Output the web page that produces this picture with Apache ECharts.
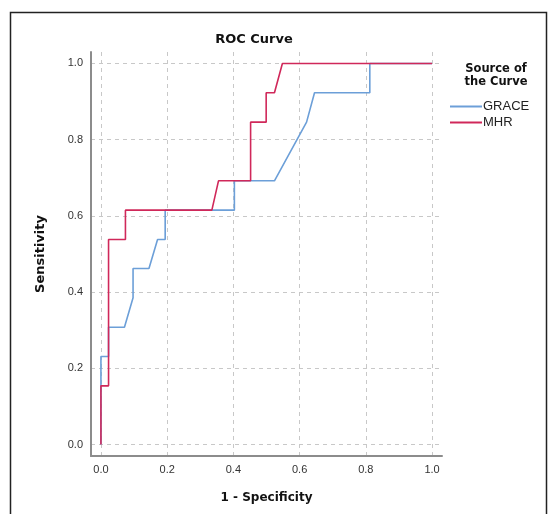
<!DOCTYPE html>
<html>
<head>
<meta charset="utf-8">
<script src="https://cdn.jsdelivr.net/npm/echarts@6/dist/echarts.min.js"></script>
<style>
  html, body { margin: 0; padding: 0; background: #fff; }
  #roc { width: 549px; height: 514px; }
</style>
</head>
<body>
<div id="roc"></div>
<script>
// tick values on both axes
var tickValues = [0, 0.2, 0.4, 0.6, 0.8, 1.0];

// ROC points: [1 - specificity, sensitivity]
var graceCurve = [
    [0, 0], [0, 0.231], [0.023, 0.231], [0.023, 0.308], [0.071, 0.308],
    [0.097, 0.385], [0.097, 0.462], [0.145, 0.462], [0.171, 0.538],
    [0.194, 0.538], [0.194, 0.615], [0.403, 0.615], [0.403, 0.692],
    [0.524, 0.692], [0.621, 0.846], [0.645, 0.923], [0.812, 0.923],
    [0.812, 1], [1, 1]
];
var mhrCurve = [
    [0, 0], [0, 0.154], [0.023, 0.154], [0.023, 0.538], [0.074, 0.538],
    [0.074, 0.615], [0.335, 0.615], [0.355, 0.692], [0.452, 0.692],
    [0.452, 0.846], [0.499, 0.846], [0.499, 0.923], [0.524, 0.923],
    [0.548, 1], [1, 1]
];

var seriesNames = ['GRACE', 'MHR'];
var seriesColors = ['#6c9fd8', '#d0285a'];

var chartDom = document.getElementById('roc');
var myChart = echarts.init(chartDom);

var fontFam = '"Liberation Sans", Arial, sans-serif';
var boldFam = '"DejaVu Sans", Verdana, sans-serif';

function valueAxis(name, nameGap, rotate, nameSize) {
    return {
        type: 'value',
        min: -0.03,
        max: 1.03,
        name: name,
        nameLocation: 'middle',
        nameGap: nameGap,
        nameRotate: rotate,
        nameTextStyle: { fontFamily: boldFam, fontWeight: 'bold', fontSize: nameSize, color: '#111' },
        axisLine: { show: true, onZero: false, lineStyle: { color: '#8c8c8c', width: 2 } },
        axisTick: { show: false, customValues: tickValues },
        axisLabel: {
            customValues: tickValues,
            formatter: function (v) { return v.toFixed(1); },
            fontFamily: fontFam,
            fontSize: 11,
            color: '#333'
        },
        splitLine: { show: true, lineStyle: { color: '#c8c8c8', type: [4, 4], width: 1 } }
    };
}

var option = {
    backgroundColor: '#fff',
    animation: false,
    graphic: [
        {
            type: 'rect',
            shape: { x: 10.5, y: 12.5, width: 536, height: 520 },
            style: { fill: null, stroke: '#222', lineWidth: 1.5 },
            silent: true
        },
        {
            type: 'text',
            x: 254,
            y: 33,
            style: {
                text: 'ROC Curve',
                align: 'center',
                font: 'bold 13px ' + boldFam,
                fill: '#111'
            }
        },
        {
            type: 'text',
            x: 496,
            y: 63,
            style: {
                text: 'Source of\nthe Curve',
                align: 'center',
                font: 'bold 11.5px ' + boldFam,
                fill: '#111',
                lineHeight: 13
            }
        }
    ],
    legend: {
        orient: 'vertical',
        left: 445,
        top: 95,
        itemWidth: 32,
        itemHeight: 2,
        itemGap: 3,
        icon: 'rect',
        data: seriesNames,
        textStyle: { fontFamily: fontFam, fontSize: 13, color: '#222', padding: [0, 0, 0, -4] }
    },
    grid: { left: 91, top: 52, right: 107, bottom: 58 },
    xAxis: valueAxis('1 - Specificity', 36, 0, 12),
    yAxis: valueAxis('Sensitivity', 44, 90, 13),
    series: [
        {
            name: seriesNames[0],
            type: 'line',
            data: graceCurve,
            showSymbol: false,
            color: seriesColors[0],
            lineStyle: { width: 1.6, color: seriesColors[0] }
        },
        {
            name: seriesNames[1],
            type: 'line',
            data: mhrCurve,
            showSymbol: false,
            color: seriesColors[1],
            lineStyle: { width: 1.6, color: seriesColors[1] }
        }
    ]
};

myChart.setOption(option);

window.addEventListener('resize', function () {
    myChart.resize();
});
</script>
</body>
</html>
